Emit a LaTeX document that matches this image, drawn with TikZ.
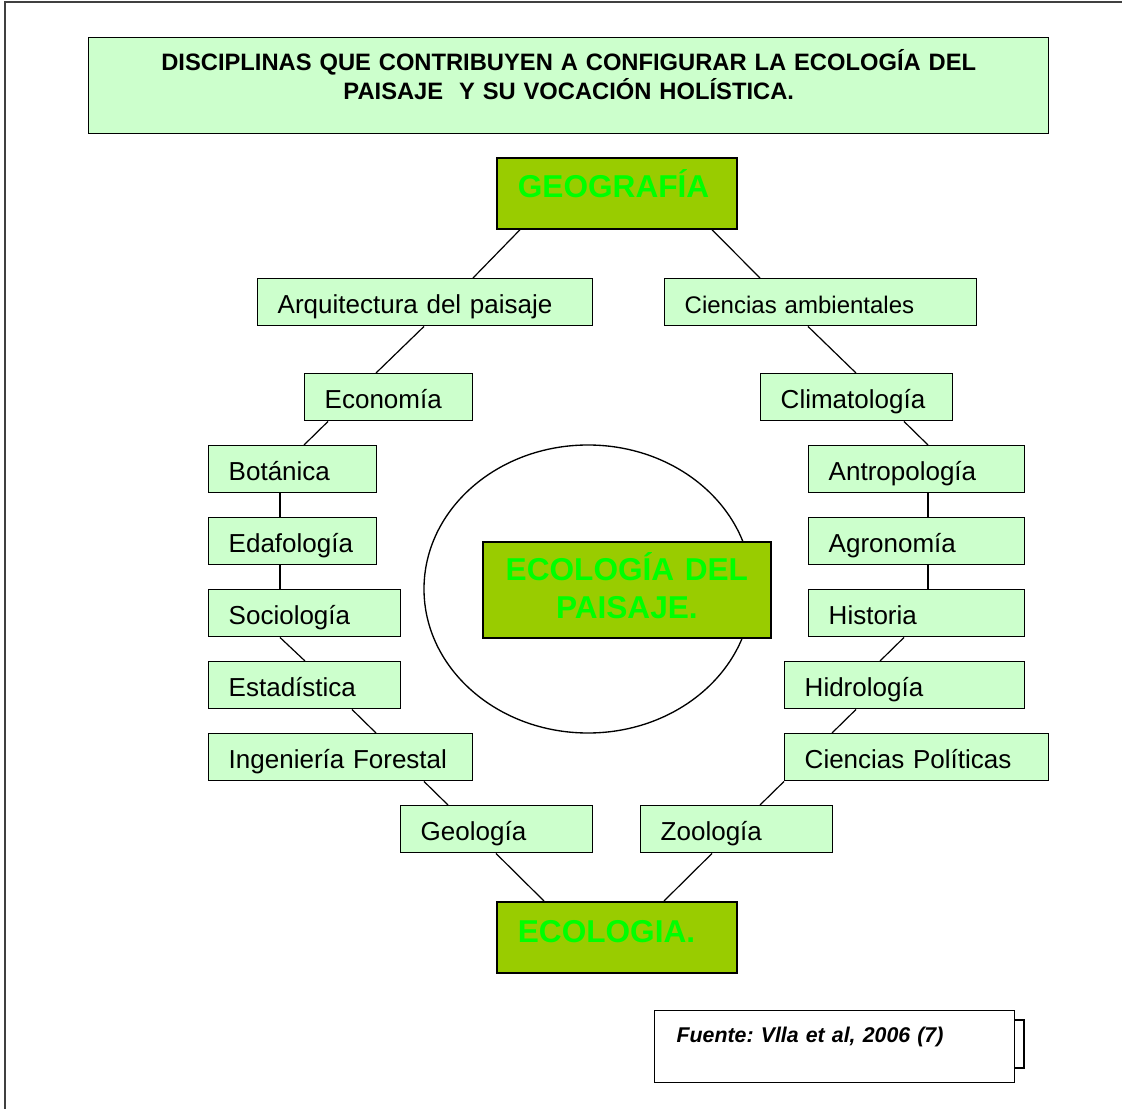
\documentclass[tikz,border=0pt]{standalone}
\usepackage{fontspec}
\setmainfont{Liberation Sans}
\usetikzlibrary{calc}
\frenchspacing
\newdimen\pxu \pxu=0.75pt
\definecolor{verdeclaro}{HTML}{CCFFCC}
\definecolor{oliva}{HTML}{99CC00}
\definecolor{verdevivo}{HTML}{00FF00}
\tikzset{
  caja/.style={draw, line width=1.1pt, fill=verdeclaro, anchor=north west, align=left,
    inner xsep=20\pxu, inner ysep=0pt, text width=#1\pxu, text height=35\pxu, text depth=12\pxu,
    font=\fontsize{19.5}{23}\selectfont},
  mayor/.style={draw, line width=1.3pt, fill=oliva, text=verdevivo, anchor=north west,
    inner ysep=0pt, font=\bfseries\fontsize{23.7}{28.5}\selectfont},
  conector/.style={line width=0.9pt}
}
\begin{document}
\begin{tikzpicture}[x=0.75pt,y=-0.75pt]
\useasboundingbox (0,0) rectangle (1122,1109);
% marco exterior
\draw[line width=1.1pt, draw=black!75] (5,2) rectangle (1140,1130);

% titulo
\node[draw, line width=1.1pt, fill=verdeclaro, anchor=north west, align=center, inner sep=0pt,
  text width=960\pxu, text height=33\pxu, text depth=63\pxu,
  font=\bfseries\fontsize{17.8}{21.75}\selectfont] (titulo) at (88,37)
  {DISCIPLINAS QUE CONTRIBUYEN A CONFIGURAR LA ECOLOGÍA DEL\\PAISAJE \ Y SU VOCACIÓN HOLÍSTICA.};

% circulo central
\draw[line width=1pt] (588,589) ellipse [x radius=164, y radius=144];

% disciplinas principales
\node[mayor, align=left, inner xsep=21\pxu, text width=198\pxu, text height=40\pxu, text depth=31\pxu] (geo) at (496,157) {GEOGRAFÍA};
\node[mayor, align=center, inner xsep=0pt, text width=288\pxu, text height=39\pxu, text depth=57\pxu] (centro) at (482,541) {ECOLOGÍA DEL\\PAISAJE.};
\node[mayor, align=left, inner xsep=21\pxu, text width=198\pxu, text height=41\pxu, text depth=30\pxu] (ecol) at (496,901) {ECOLOGIA.};

% lado izquierdo
\node[caja=295] (arq) at (257,278) {Arquitectura del paisaje};
\node[caja=128] (eco) at (304,373) {Economía};
\node[caja=128] (bot) at (208,445) {Botánica};
\node[caja=128] (eda) at (208,517) {Edafología};
\node[caja=152] (soc) at (208,589) {Sociología};
\node[caja=152] (est) at (208,661) {Estadística};
\node[caja=224] (ing) at (208,733) {Ingeniería Forestal};
\node[caja=152] (geol) at (400,805) {Geología};

% lado derecho
\node[caja=272, font=\fontsize{18}{22}\selectfont] (amb) at (664,278) {Ciencias ambientales};
\node[caja=152] (cli) at (760,373) {Climatología};
\node[caja=176] (ant) at (808,445) {Antropología};
\node[caja=176] (agr) at (808,517) {Agronomía};
\node[caja=176] (his) at (808,589) {Historia};
\node[caja=200] (hid) at (784,661) {Hidrología};
\node[caja=224] (pol) at (784,733) {Ciencias Políticas};
\node[caja=152] (zoo) at (640,805) {Zoología};

% conectores
\foreach \a/\da/\b/\db in {geo/24/arq/216, geo/216/amb/96, arq/167/eco/72, amb/144/cli/96,
    eco/24/bot/96, cli/144/ant/120, bot/72/eda/72, eda/72/soc/72, soc/72/est/97,
    est/144/ing/168, ing/216/geol/48, geol/96/ecol/48, zoo/72/ecol/168, pol/0/zoo/120,
    hid/72/pol/48, his/96/hid/96, ant/120/agr/120, agr/120/his/120}
  \draw[conector] ($(\a.south west)+(\da,0)$) -- ($(\b.north west)+(\db,0)$);

% fuente
\draw[line width=1pt] (1014,1020) rectangle (1024,1068);
\node[draw, line width=1pt, fill=white, anchor=north west, align=left, inner ysep=0pt, inner xsep=22\pxu,
  text width=316\pxu, text height=32\pxu, text depth=40\pxu,
  font=\bfseries\itshape\fontsize{16}{19}\selectfont] (fuente) at (654,1010) {Fuente: Vlla et al, 2006 (7)};
\end{tikzpicture}
\end{document}
